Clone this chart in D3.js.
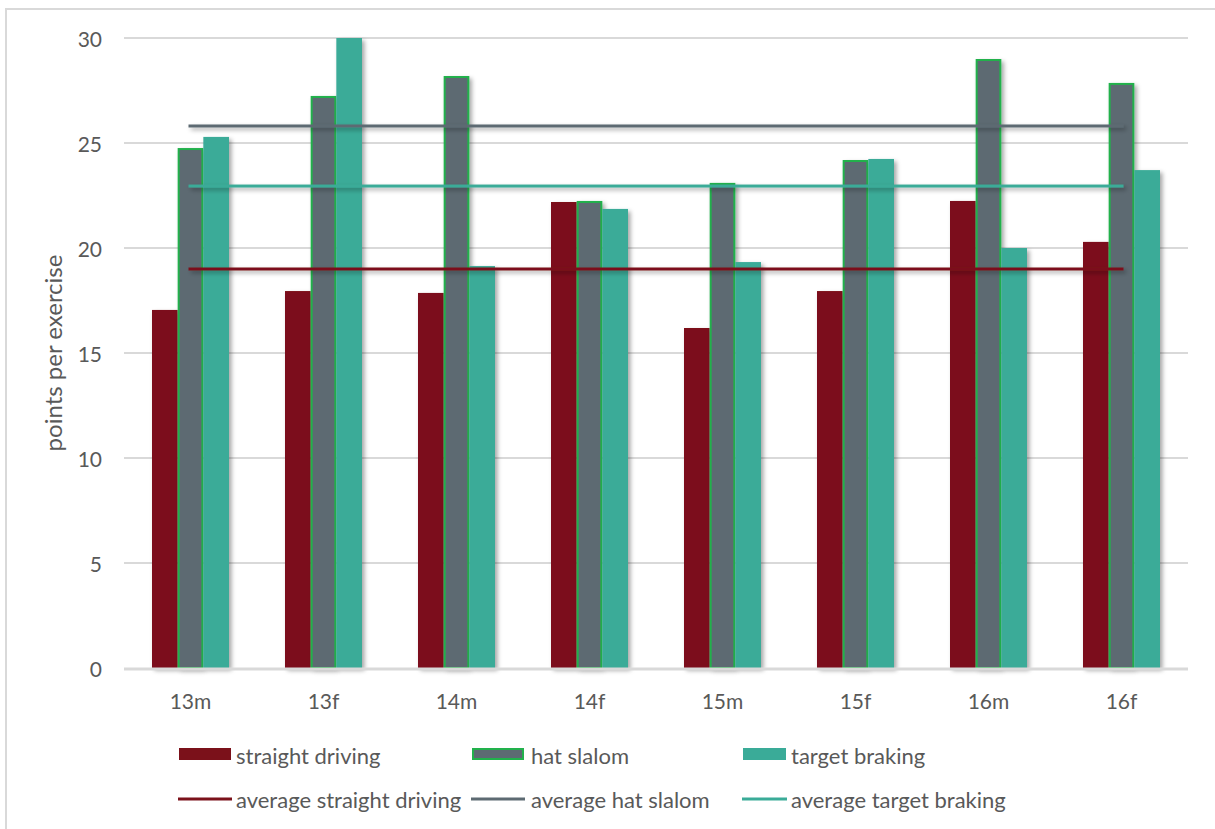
<!DOCTYPE html>
<html><head><meta charset="utf-8">
<script src="https://cdn.jsdelivr.net/npm/d3@7"></script>
<style>body{margin:0;background:#fff;} text{font-family:Lato,"Open Sans",sans-serif;fill:#595959;}</style>
</head><body>
<svg id="c" width="1215" height="829"></svg>
<script>
const categories = ["13m","13f","14m","14f","15m","15f","16m","16f"];
const straightDriving = [17.05,17.95,17.86,22.19,16.19,17.95,22.24,20.29];
const hatSlalom = [24.76,27.24,28.19,22.24,23.1,24.19,29.0,27.86];
const targetBraking = [25.29,30.0,19.14,21.86,19.33,24.24,20.0,23.71];
const averages = [19.0, 25.81, 22.95];
const seriesNames = ["straight driving","hat slalom","target braking"];
const avgNames = ["average straight driving","average hat slalom","average target braking"];
const yTicks = [0,5,10,15,20,25,30];
const colors = ["#7b111a","#5d6a72","#3aab98"];
const borderGreen = "#22b14c";

const svg = d3.select("#c");
const defs = svg.append("defs");
const f = defs.append("filter").attr("id","sh").attr("filterUnits","userSpaceOnUse")
  .attr("x",0).attr("y",0).attr("width",1215).attr("height",829);
f.append("feDropShadow").attr("dx",2.5).attr("dy",2.5).attr("stdDeviation",2).attr("flood-color","#000").attr("flood-opacity",0.35);

// frame
svg.append("rect").attr("x",6).attr("y",9).attr("width",1240).attr("height",840)
  .attr("fill","none").attr("stroke","#d9d9d9").attr("stroke-width",2);

const x = d3.scaleBand().domain(categories).range([124,1188]).paddingInner(0).paddingOuter(0);
const y = d3.scaleLinear().domain([0,30]).range([668,38]);
const groupW = 77;
const xs = d3.scaleBand().domain([0,1,2]).range([0,groupW]);

// gridlines
svg.append("g").selectAll("line").data(yTicks.filter(d=>d>0)).join("line")
  .attr("x1",124).attr("x2",1188).attr("y1",d=>y(d)).attr("y2",d=>y(d))
  .attr("stroke","#d9d9d9").attr("stroke-width",2);

// y labels
svg.append("g").selectAll("text").data(yTicks).join("text")
  .attr("x",102).attr("y",d=>y(d)).attr("text-anchor","end").attr("dominant-baseline","central")
  .attr("font-size",21).text(d=>d);

svg.append("text").attr("transform","translate(52,353) rotate(-90)")
  .attr("text-anchor","middle").attr("dominant-baseline","central").attr("font-size",24)
  .text("points per exercise");

const series = [straightDriving, hatSlalom, targetBraking];
const gBars = svg.append("g");
series.forEach((vals,si)=>{
  gBars.append("g").selectAll("rect").data(vals).join("rect")
    .attr("x",(d,i)=>x(categories[i]) + (x.bandwidth()-groupW)/2 + xs(si) + (si===1?1:0))
    .attr("y",d=>y(d) + (si===1?1:0))
    .attr("width",xs.bandwidth() - (si===1?2:0))
    .attr("height",d=>y(0)-y(d) - (si===1?1:0))
    .attr("fill",colors[si])
    .attr("stroke",si===1?borderGreen:"none").attr("stroke-width",2)
    .attr("filter","url(#sh)");
});

// baseline axis
svg.append("line").attr("x1",124).attr("x2",1188).attr("y1",y(0)+1).attr("y2",y(0)+1)
  .attr("stroke","#d9d9d9").attr("stroke-width",3);

// average lines
const gAvg = svg.append("g");
averages.forEach((a,i)=>{
  const x1 = x(categories[0])+x.bandwidth()/2-2;
  const x2 = x(categories[categories.length-1])+x.bandwidth()/2+2;
  gAvg.append("rect")
    .attr("x",x1).attr("width",x2-x1)
    .attr("y",y(a)-1.5).attr("height",3)
    .attr("fill",colors[i]).attr("filter","url(#sh)");
});

// x labels
svg.append("g").selectAll("text").data(categories).join("text")
  .attr("x",d=>x(d)+x.bandwidth()/2).attr("y",700).attr("text-anchor","middle")
  .attr("dominant-baseline","central").attr("font-size",21).text(d=>d);

// legend
const legX = [179,472,743];
const legTextX = [236,531,791];
seriesNames.forEach((n,i)=>{
  svg.append("rect").attr("x",legX[i]+(i===1?1:0)).attr("y",748+(i===1?1:0))
    .attr("width",(i===2?43:52)-(i===1?2:0)).attr("height",12-(i===1?2:0))
    .attr("fill",colors[i]).attr("stroke",i===1?borderGreen:"none").attr("stroke-width",2);
  svg.append("text").attr("x",legTextX[i]).attr("y",755).attr("dominant-baseline","central")
    .attr("font-size",22).text(n);
});
avgNames.forEach((n,i)=>{
  svg.append("line").attr("x1",legX[i]-1).attr("x2",legX[i]+(i===2?44:53)).attr("y1",799).attr("y2",799)
    .attr("stroke",colors[i]).attr("stroke-width",3);
  svg.append("text").attr("x",legTextX[i]).attr("y",799).attr("dominant-baseline","central")
    .attr("font-size",22).text(n);
});
</script>
</body></html>
